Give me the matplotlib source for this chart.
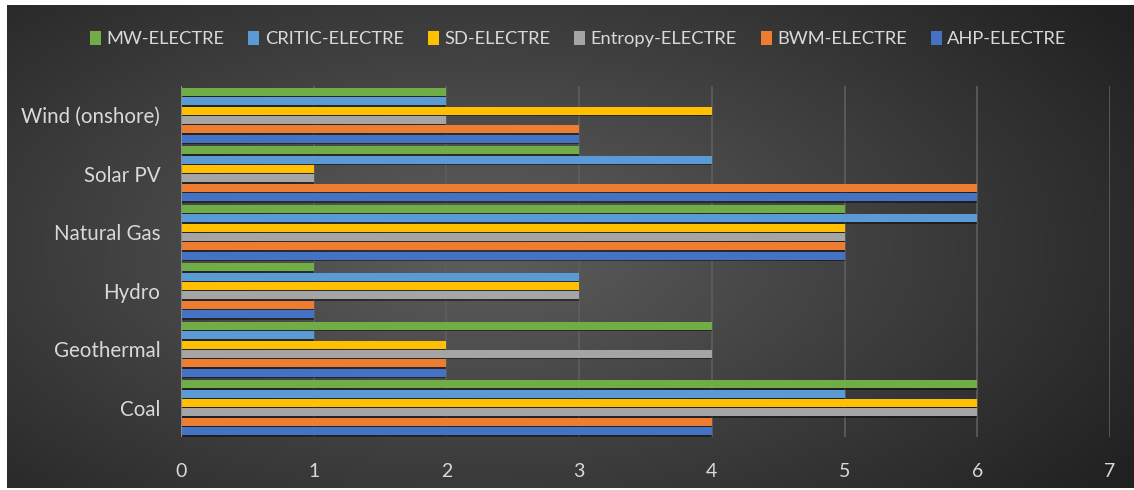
import matplotlib
matplotlib.use("Agg")
import matplotlib.pyplot as plt
import numpy as np

plt.rcParams["font.family"] = ["Lato", "DejaVu Sans"]

categories = ["Coal", "Geothermal", "Hydro", "Natural Gas", "Solar PV", "Wind (onshore)"]
# series listed bottom-to-top inside each group
series = ["AHP-ELECTRE", "BWM-ELECTRE", "Entropy-ELECTRE", "SD-ELECTRE", "CRITIC-ELECTRE", "MW-ELECTRE"]
ahp = [4, 2, 1, 5, 6, 3]
bwm = [4, 2, 1, 5, 6, 3]
entropy = [6, 4, 3, 5, 1, 2]
sd = [6, 2, 3, 5, 1, 4]
critic = [5, 1, 3, 6, 4, 2]
mw = [6, 4, 1, 5, 3, 2]
values = [ahp, bwm, entropy, sd, critic, mw]
colors = ["#4472C4", "#ED7D31", "#A5A5A5", "#FFC000", "#5B9BD5", "#70AD47"]
xticks = [0, 1, 2, 3, 4, 5, 6, 7]

W, H = 1134, 490
fig = plt.figure(figsize=(W / 100, H / 100), dpi=100)
fig.patch.set_facecolor("white")

# dark radial-gradient panel
bg = fig.add_axes([7 / W, 2 / H, 1 - 7 / W, 1 - 7 / H])
bg.set_axis_off()
yy, xx = np.mgrid[0:1:200j, 0:1:400j]
r = np.sqrt(((xx - 0.42) / 0.75) ** 2 + ((yy - 0.5) / 0.9) ** 2)
shade = np.clip(0.37 - 0.26 * r, 0.13, 0.37)
img = np.dstack([shade, shade, shade])
bg.imshow(img, aspect="auto", extent=[0, 1, 0, 1], origin="lower")
bg.set_xlim(0, 1)
bg.set_ylim(0, 1)

ax = fig.add_axes([181 / W, 1 - 437 / H, (1110 - 181) / W, (437 - 86) / H])
ax.patch.set_alpha(0)

y = np.arange(len(categories))
slot = 0.16
bh = 0.135
for i, (name, vals, c) in enumerate(zip(series, values, colors)):
    off = (i - 2.5) * slot
    # soft shadow under each bar
    ax.barh(y + off - 0.025, vals, height=bh, color="black", alpha=0.45, zorder=2)
    ax.barh(y + off, vals, height=bh, color=c, label=name, zorder=3, linewidth=0)

ax.set_xlim(0, 7)
ax.set_ylim(-0.5, 5.5)
ax.set_xticks(xticks)
ax.set_yticks(y)
ax.set_yticklabels(categories)
ax.tick_params(axis="x", colors="#D9D9D9", labelsize=14, length=0, pad=19)
ax.tick_params(axis="y", colors="#D9D9D9", labelsize=14.8, length=0, pad=15)
for s in ax.spines.values():
    s.set_visible(False)
ax.axvline(0, color="#8C8C8C", linewidth=1.5, zorder=4)
ax.grid(axis="x", color="#5E5E5E", linewidth=1.2, zorder=1)
ax.set_axisbelow(True)

handles, labels = ax.get_legend_handles_labels()
fig.legend(handles[::-1], labels[::-1], loc="center", ncol=6,
           bbox_to_anchor=(0.51, 1 - 39 / H), frameon=False,
           fontsize=13.2, labelcolor="#D9D9D9", handlelength=0.6,
           handleheight=0.8, handletextpad=0.3, columnspacing=1.3)

fig.savefig("out.png", dpi=100, facecolor=fig.get_facecolor())
